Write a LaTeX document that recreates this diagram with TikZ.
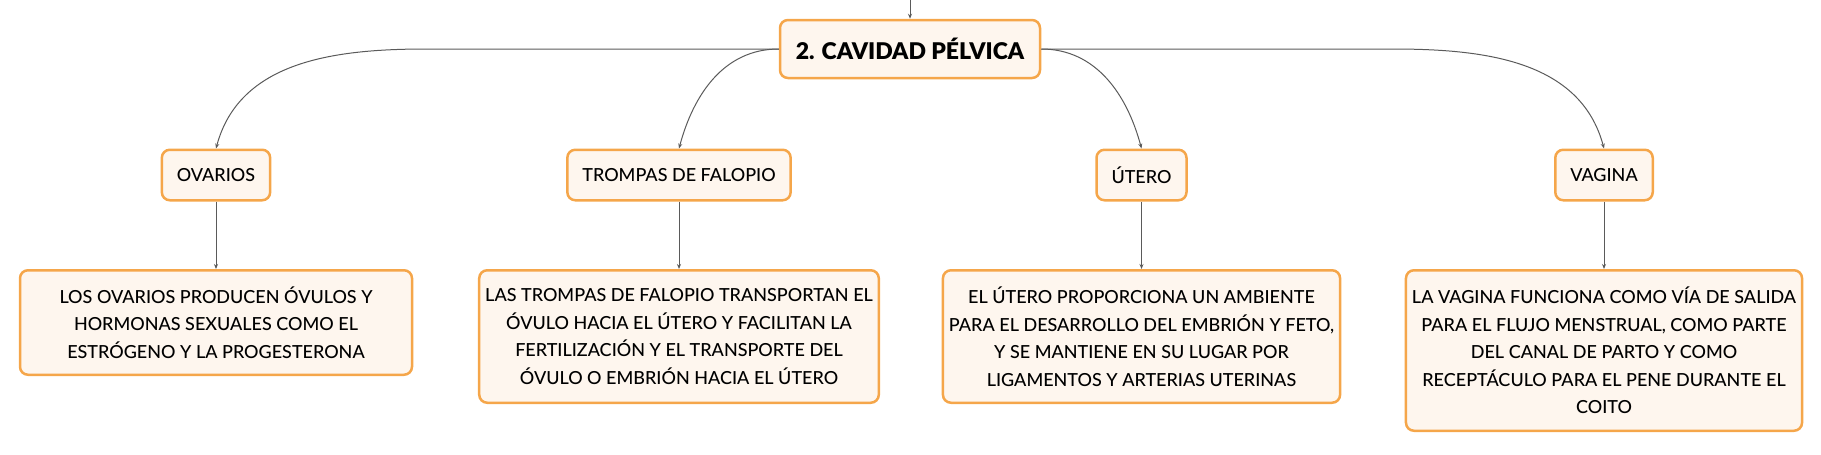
\documentclass[tikz,border=0pt]{standalone}
\usepackage{fontspec}
\setmainfont{Lato Medium}
\newfontfamily\heavyfont{Lato Black}
\usetikzlibrary{positioning,arrows.meta}
\definecolor{boxline}{HTML}{F5A64A}
\definecolor{boxfill}{HTML}{FEF6EE}
\definecolor{linkgray}{HTML}{5A5A5A}

\begin{document}
\begin{tikzpicture}[
  x=1pt, y=-1pt,
  node distance=67.5pt,
  every node/.style={font=\fontsize{18}{27.5}\selectfont},
  topic/.style={draw=boxline, fill=boxfill, line width=2.5pt, rounded corners=8pt,
                minimum height=50.5pt, inner xsep=15pt, align=center},
  mainbox/.style={topic, minimum width=260pt, minimum height=58pt,
                  font=\fontsize{23}{28}\selectfont\heavyfont},
  desc/.style={topic, minimum width=392pt, inner xsep=6pt},
  link/.style={-{Stealth[length=5pt,width=4pt]}, linkgray, line width=1pt}
]
  \useasboundingbox (0,0) rectangle (1821,455);

  \node[mainbox] (cavidad) at (910,49) {2. CAVIDAD PÉLVICA};
  \coordinate (topend) at (910,0);

  \node[topic] (ovarios) at (216,175)    {OVARIOS};
  \node[topic] (trompas) at (679,175)    {TROMPAS DE FALOPIO};
  \node[topic] (utero)   at (1141.5,175) {ÚTERO};
  \node[topic] (vagina)  at (1604,175)   {VAGINA};

  \node[desc, minimum height=104.5pt, below=of ovarios] (ovariosdesc)
    {LOS OVARIOS PRODUCEN ÓVULOS Y\\HORMONAS SEXUALES COMO EL\\ESTRÓGENO Y LA PROGESTERONA};
  \node[desc, minimum height=132.5pt, below=of trompas] (trompasdesc)
    {LAS TROMPAS DE FALOPIO TRANSPORTAN EL\\ÓVULO HACIA EL ÚTERO Y FACILITAN LA\\FERTILIZACIÓN Y EL TRANSPORTE DEL\\ÓVULO O EMBRIÓN HACIA EL ÚTERO};
  \node[desc, minimum height=132.5pt, below=of utero] (uterodesc)
    {EL ÚTERO PROPORCIONA UN AMBIENTE\\PARA EL DESARROLLO DEL EMBRIÓN Y FETO,\\Y SE MANTIENE EN SU LUGAR POR\\LIGAMENTOS Y ARTERIAS UTERINAS};
  \node[desc, minimum height=160.5pt, below=of vagina] (vaginadesc)
    {LA VAGINA FUNCIONA COMO VÍA DE SALIDA\\PARA EL FLUJO MENSTRUAL, COMO PARTE\\DEL CANAL DE PARTO Y COMO\\RECEPTÁCULO PARA EL PENE DURANTE EL\\COITO};

  % branches from the main box
  \coordinate (bendL) at (427,49);
  \coordinate (bendR) at (1392,49);
  \draw[link] (topend) -- (cavidad.north);
  \draw[link] (cavidad.west) -- (bendL) to[out=180,in=75] (ovarios.north);
  \draw[link] (cavidad.west) to[out=180,in=75] (trompas.north);
  \draw[link] (cavidad.east) to[out=0,in=105] (utero.north);
  \draw[link] (cavidad.east) -- (bendR) to[out=0,in=105] (vagina.north);

  \foreach \a in {ovarios,trompas,utero,vagina}
    \draw[link] (\a) -- (\a desc);
\end{tikzpicture}
\end{document}
